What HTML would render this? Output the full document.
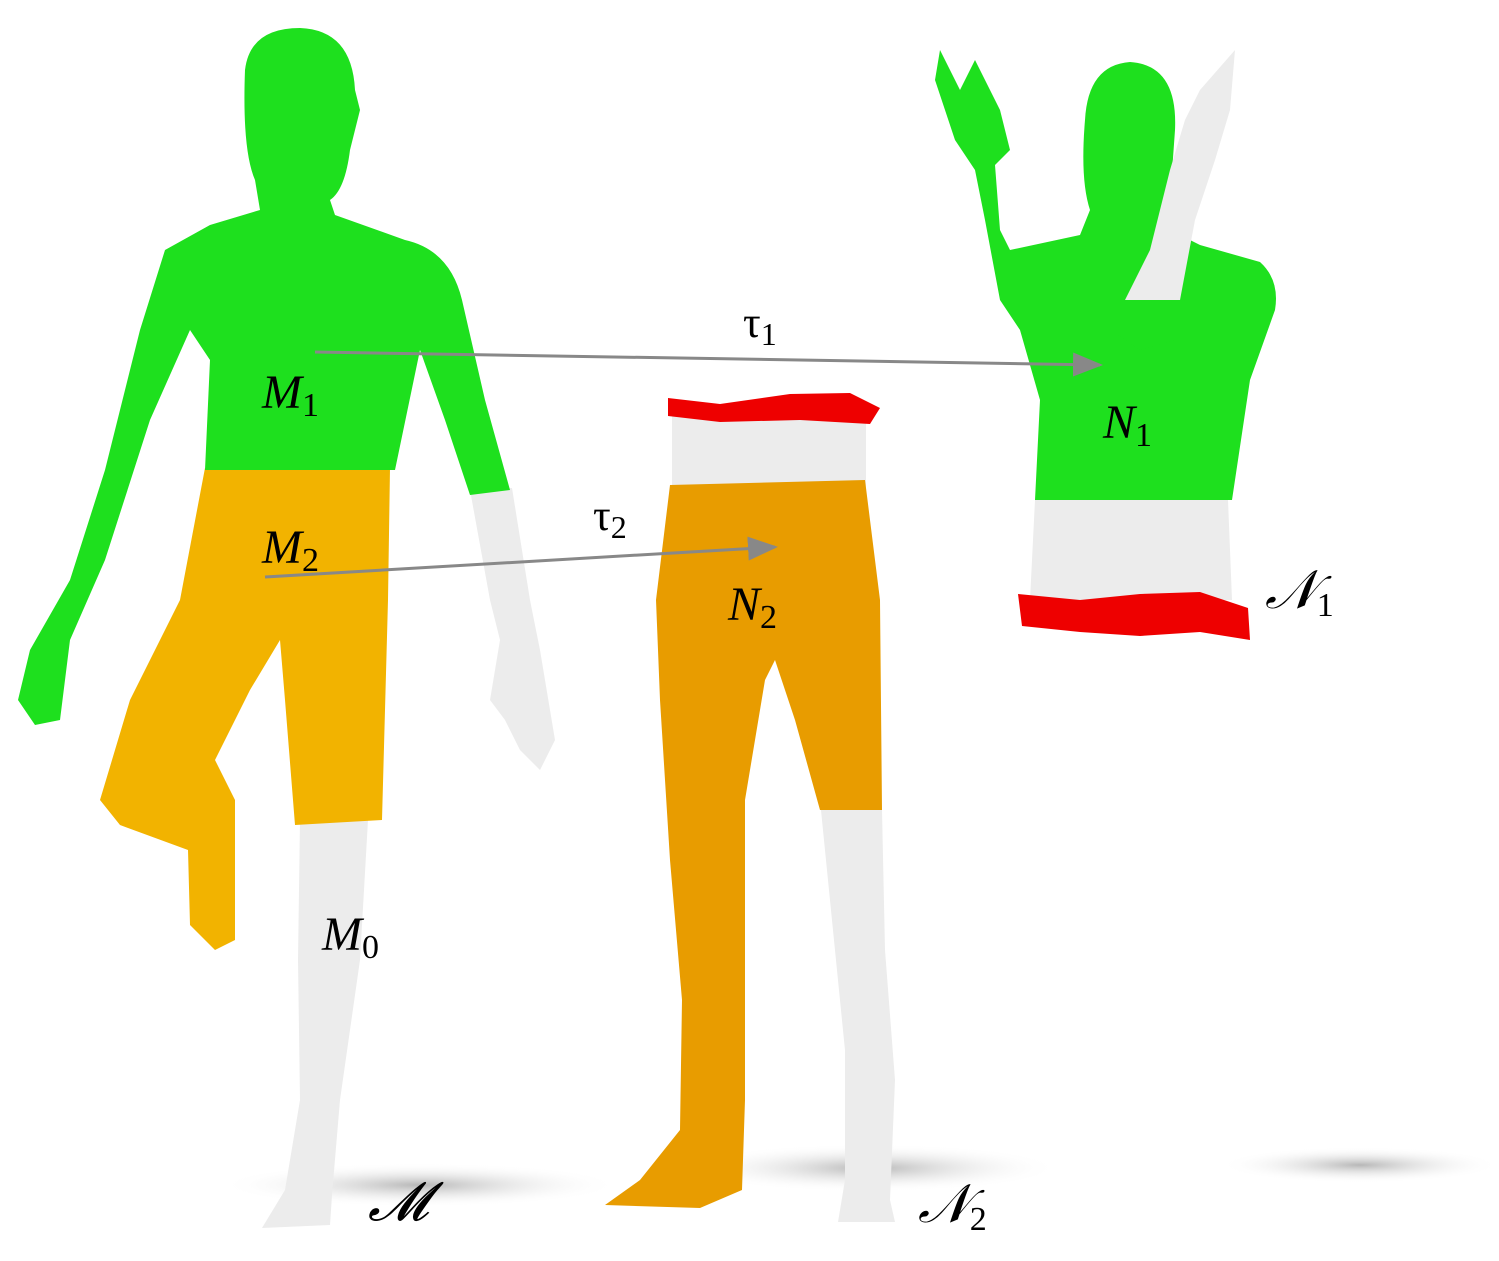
<!DOCTYPE html>
<html><head><meta charset="utf-8"><style>
html,body{margin:0;padding:0;background:#fff;}
svg{display:block}
text{font-family:"Liberation Serif",serif;font-style:italic;fill:#000}
.up{font-style:normal}
</style></head><body>
<svg width="1499" height="1261" viewBox="0 0 1499 1261">
<defs>
<radialGradient id="sh"><stop offset="0" stop-color="#aaa" stop-opacity="0.85"/><stop offset="1" stop-color="#fff" stop-opacity="0"/></radialGradient>
<marker id="ah" markerWidth="10" markerHeight="8" refX="9" refY="4" orient="auto"><path d="M0,0 L10,4 L0,8 z" fill="#888"/></marker>
</defs>
<ellipse cx="420" cy="1185" rx="200" ry="22" fill="url(#sh)"/>
<ellipse cx="870" cy="1168" rx="190" ry="24" fill="url(#sh)"/>
<ellipse cx="1360" cy="1165" rx="140" ry="18" fill="url(#sh)"/>

<g>
<path d="M300,820 L368,820 L360,960 L340,1100 L332,1195 L330,1225 L262,1228 L285,1190 L300,1100 L298,960 Z" fill="#ececec"/>
<path d="M470,490 L512,488 L530,600 L540,650 L555,740 L540,770 L520,750 L505,720 L490,700 L500,640 L490,600 Z" fill="#ececec"/>
<path d="M205,468 L390,468 L388,600 L382,820 L295,825 L285,700 L280,640 L250,690 L215,760 L235,800 L235,940 L215,950 L190,925 L188,850 L120,825 L100,800 L130,700 L180,600 Z" fill="#f2b300"/>
<path d="M245,70 Q250,28 300,28 Q352,30 355,90 L360,110 L350,150 Q345,190 330,200 L335,215 L405,240 Q450,250 462,300 L485,400 L510,490 L470,495 L445,420 L420,350 L395,470 L205,470 L210,360 L190,330 L150,420 L105,560 L70,640 L60,720 L35,725 L18,700 L30,650 L70,580 L105,470 L140,330 L165,250 L210,225 L260,210 L255,180 Q242,150 245,70 Z" fill="#1ee01e"/>
</g>

<g>
<path d="M672,415 L866,415 L866,490 L672,490 Z" fill="#ececec"/>
<path d="M668,398 L720,404 L790,394 L850,393 L880,408 L870,424 L800,420 L720,422 L668,416 Z" fill="#e00"/>
<path d="M820,800 L882,810 L885,950 L895,1080 L890,1200 L895,1222 L838,1222 L845,1180 L845,1050 L830,900 Z" fill="#ececec"/>
<path d="M670,485 L865,480 L880,600 L882,810 L820,810 L795,720 L775,660 L765,680 L745,800 L745,1100 L742,1190 L700,1208 L605,1205 L640,1180 L680,1130 L682,1000 L670,860 L660,700 L656,600 Z" fill="#e89c00"/>
</g>

<g>
<path d="M1035,500 L1228,500 L1232,600 L1030,600 Z" fill="#ececec"/>
<path d="M1018,594 L1080,600 L1140,594 L1200,592 L1248,608 L1250,640 L1200,632 L1140,636 L1080,632 L1022,626 Z" fill="#e00"/>
<path d="M1085,120 Q1088,65 1130,62 Q1178,65 1175,130 L1170,200 L1160,225 L1200,245 L1260,262 Q1280,280 1275,310 L1250,380 L1232,500 L1035,500 L1040,400 L1020,330 L1000,300 L985,220 L975,170 L955,140 L935,80 L940,50 L960,90 L975,60 L990,90 L1000,110 L1010,150 L995,165 L1000,230 L1010,250 L1080,235 L1090,210 Q1080,180 1085,120 Z" fill="#1ee01e"/>
<path d="M1200,90 L1235,50 L1230,110 L1215,160 L1195,220 L1180,300 L1125,300 L1150,250 L1170,170 L1185,120 Z" fill="#ececec"/>
<path d="M1120,305 L1185,300 L1175,340 L1140,350 L1118,335 Z" fill="#1ee01e"/>
</g>

<line x1="315" y1="352" x2="1100" y2="365" stroke="#888" stroke-width="3" marker-end="url(#ah)"/>
<line x1="265" y1="577" x2="775" y2="547" stroke="#888" stroke-width="3" marker-end="url(#ah)"/>

<text x="743" y="337" font-size="44" class="up" style="font-style:normal">τ<tspan font-size="32" dy="8">1</tspan></text>
<text x="593" y="530" font-size="44" class="up" style="font-style:normal">τ<tspan font-size="32" dy="8">2</tspan></text>
<text x="262" y="408" font-size="48">M<tspan font-size="34" style="font-style:normal" dy="8">1</tspan></text>
<text x="262" y="563" font-size="48">M<tspan font-size="34" style="font-style:normal" dy="8">2</tspan></text>
<text x="322" y="950" font-size="48">M<tspan font-size="34" style="font-style:normal" dy="8">0</tspan></text>
<text x="1103" y="438" font-size="48">N<tspan font-size="34" style="font-style:normal" dy="8">1</tspan></text>
<text x="728" y="620" font-size="48">N<tspan font-size="34" style="font-style:normal" dy="8">2</tspan></text>
<text x="368" y="1220" font-size="54">𝓜</text>
<text x="1265" y="608" font-size="54">𝒩<tspan font-size="34" style="font-style:normal" dy="8">1</tspan></text>
<text x="918" y="1222" font-size="54">𝒩<tspan font-size="34" style="font-style:normal" dy="8">2</tspan></text>
</svg>
</body></html>
